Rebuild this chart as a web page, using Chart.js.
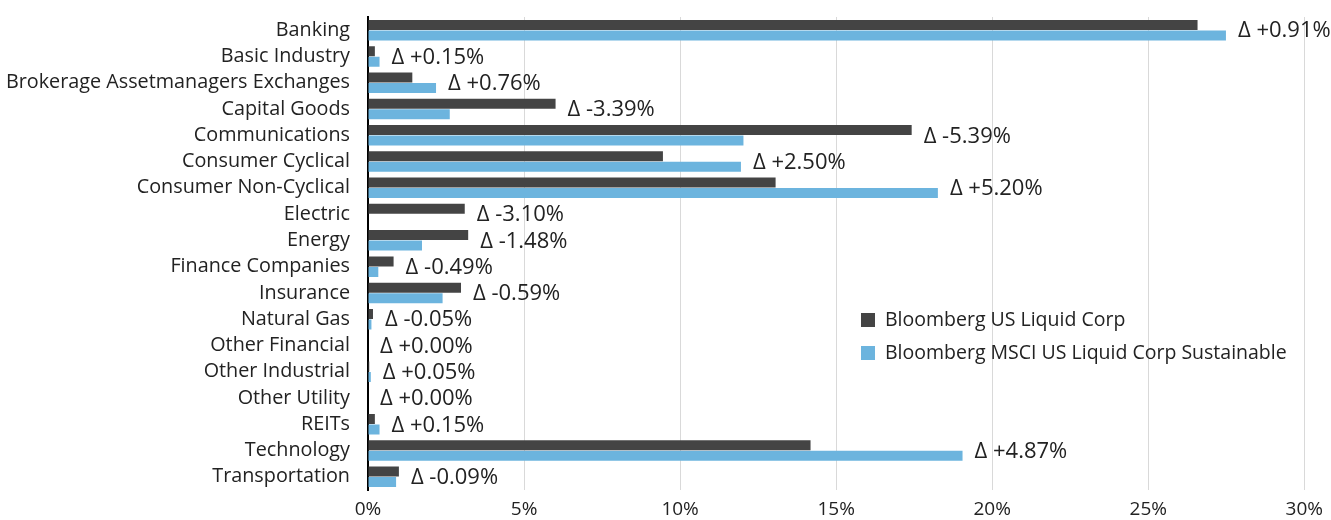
<!DOCTYPE html>
<html>
<head>
<meta charset="utf-8">
<script src="https://cdn.jsdelivr.net/npm/chart.js@4/dist/chart.umd.min.js"></script>
<style>
  html, body { margin: 0; padding: 0; background: #fff; }
  #wrap { width: 1331px; height: 520px; }
</style>
</head>
<body>
<div id="wrap"><canvas id="chart"></canvas></div>
<script>
const sectors = [
    'Banking', 'Basic Industry', 'Brokerage Assetmanagers Exchanges', 'Capital Goods',
    'Communications', 'Consumer Cyclical', 'Consumer Non-Cyclical', 'Electric', 'Energy',
    'Finance Companies', 'Insurance', 'Natural Gas', 'Other Financial', 'Other Industrial',
    'Other Utility', 'REITs', 'Technology', 'Transportation'
];
const seriesNames = ['Bloomberg US Liquid Corp', 'Bloomberg MSCI US Liquid Corp Sustainable'];

// weights in %
const usCorp = [26.58, 0.22, 1.42, 6.01, 17.42, 9.45, 13.06, 3.10, 3.21, 0.82, 2.98, 0.16, 0.00, 0.04, 0.00, 0.22, 14.18, 0.99];
const sustainable = [27.49, 0.37, 2.18, 2.62, 12.03, 11.95, 18.26, 0.00, 1.73, 0.33, 2.39, 0.11, 0.00, 0.09, 0.00, 0.37, 19.05, 0.90];
const deltas = ['+0.91', '+0.15', '+0.76', '-3.39', '-5.39', '+2.50', '+5.20', '-3.10', '-1.48', '-0.49', '-0.59', '-0.05', '+0.00', '+0.05', '+0.00', '+0.15', '+4.87', '-0.09'];
const xTicks = [0, 5, 10, 15, 20, 25, 30];

const FONT = "'Open Sans', 'Noto Sans', sans-serif";
const TEXT = '#222222';
const DARK = '#444444';
const LIGHT = '#6cb4de';

// delta labels next to each pair of bars
const deltaLabels = {
    id: 'deltaLabels',
    afterDatasetsDraw(chart) {
        const ctx = chart.ctx;
        const x = chart.scales.x;
        const y = chart.scales.y;
        ctx.save();
        ctx.font = '22px ' + FONT;
        ctx.fillStyle = TEXT;
        ctx.textBaseline = 'middle';
        ctx.textAlign = 'left';
        sectors.forEach((s, i) => {
            const end = x.getPixelForValue(Math.max(usCorp[i], sustainable[i]));
            ctx.fillText('\u0394 ' + deltas[i] + '%', end + 12, y.getPixelForValue(i) + 1);
        });
        ctx.restore();
    }
};

// legend drawn inside the plot
const innerLegend = {
    id: 'innerLegend',
    afterDraw(chart) {
        const ctx = chart.ctx;
        const left = 861, top = 313;
        ctx.save();
        ctx.font = '19.5px ' + FONT;
        ctx.textBaseline = 'middle';
        chart.data.datasets.forEach((ds, i) => {
            const yy = top + i * 33;
            ctx.fillStyle = ds.backgroundColor;
            ctx.fillRect(left, yy, 14, 14);
            ctx.fillStyle = TEXT;
            ctx.fillText(ds.label, left + 24, yy + 7);
        });
        ctx.restore();
    }
};

new Chart(document.getElementById('chart'), {
    type: 'bar',
    data: {
        labels: sectors,
        datasets: [
            { label: seriesNames[0], data: usCorp, backgroundColor: DARK },
            { label: seriesNames[1], data: sustainable, backgroundColor: LIGHT }
        ]
    },
    options: {
        indexAxis: 'y',
        responsive: true,
        maintainAspectRatio: false,
        animation: false,
        categoryPercentage: 0.8,
        barPercentage: 0.95,
        layout: { padding: { top: 17, right: 24, bottom: 0, left: 0 } },
        plugins: {
            legend: { display: false },
            tooltip: { enabled: false }
        },
        scales: {
            x: {
                min: 0,
                max: 30,
                afterBuildTicks: axis => { axis.ticks = xTicks.map(v => ({ value: v })); },
                afterFit: axis => { axis.height = 30; },
                grid: {
                    color: ctx => ctx.tick && ctx.tick.value === 0 ? 'rgba(0,0,0,0)' : '#d9d9d9',
                    drawTicks: false
                },
                border: { display: false },
                ticks: {
                    padding: 8,
                    color: TEXT,
                    font: { family: FONT, size: 19 },
                    callback: v => v + '%'
                }
            },
            y: {
                afterFit: axis => {
                    axis.width = 368;
                    axis.paddingTop = 0;
                    axis.paddingBottom = 0;
                },
                grid: { display: false },
                border: { display: true, color: '#000000', width: 2 },
                ticks: {
                    padding: 10,
                    color: TEXT,
                    autoSkip: false,
                    font: { family: FONT, size: 19.8 }
                }
            }
        }
    },
    plugins: [deltaLabels, innerLegend]
});
</script>
</body>
</html>
